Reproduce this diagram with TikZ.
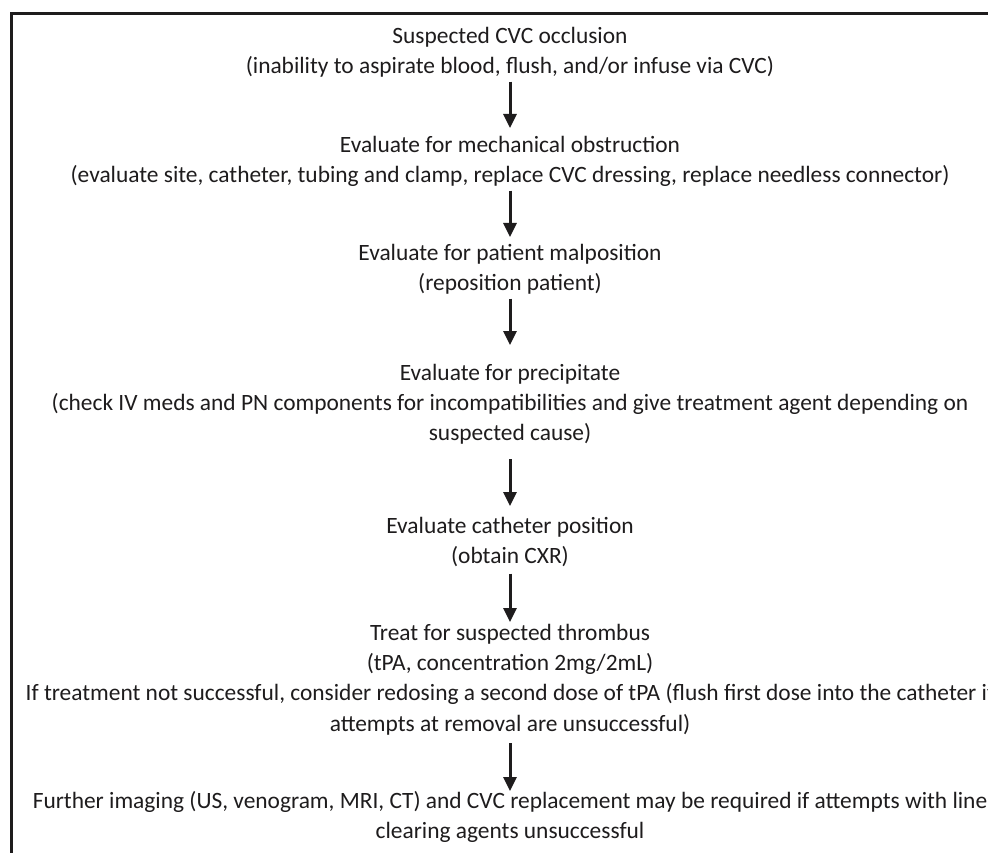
\documentclass[tikz,border=0pt]{standalone}
\usepackage{fontspec}
\setmainfont{Carlito}
\usetikzlibrary{arrows.meta}
\definecolor{ink}{HTML}{1E1C1D}
\newcommand\tp{\rule{0pt}{17pt}}
\newcommand\bt{\rule[-6pt]{0pt}{6pt}}
\begin{document}
\begin{tikzpicture}[x=1pt,y=-1pt,
  txt/.style={align=center,inner sep=0pt,anchor=north,text=ink,font=\fontsize{23.4}{30.3}\selectfont},
  arr/.style={draw=ink,line width=3pt,-{Triangle[length=14pt,width=13pt]}}]
\useasboundingbox (0,0) rectangle (988,853);
\fill[white] (0,0) rectangle (988,853);
\draw[ink,line width=3pt] (11.5,870) -- (11.5,13.5) -- (1000,13.5);

\node[txt] (a) at (510,26) {\tp Suspected CVC occlusion\\(inability to aspirate blood, flush, and/or infuse via CVC)\bt};
\node[txt] (b) at (510,135) {\tp Evaluate for mechanical obstruction\\(evaluate site, catheter, tubing and clamp, replace CVC dressing, replace needless connector)\bt};
\node[txt] (c) at (510,243) {\tp Evaluate for patient malposition\\(reposition patient)\bt};
\node[txt] (d) at (510,363) {\tp Evaluate for precipitate\\(check IV meds and PN components for incompatibilities and give treatment agent depending on\\suspected cause)\bt};
\node[txt] (e) at (510,516) {\tp Evaluate catheter position\\(obtain CXR)\bt};
\node[txt] (f) at (510,623) {\tp Treat for suspected thrombus\\(tPA, concentration 2mg/2mL)\\If treatment not successful, consider redosing a second dose of tPA (flush first dose into the catheter if\\attempts at removal are unsuccessful)\bt};
\node[txt] (g) at (510,791) {\tp Further imaging (US, venogram, MRI, CT) and CVC replacement may be required if attempts with line\\clearing agents unsuccessful\bt};

\draw[arr] ([yshift=-2pt]a.south) -- ([yshift=7pt]b.north);
\draw[arr] ([yshift=-2pt]b.south) -- ([yshift=6pt]c.north);
\draw[arr] ([yshift=-2pt]c.south) -- ([yshift=18pt]d.north);
\draw[arr] ([yshift=-12pt]d.south) -- ([yshift=10pt]e.north);
\draw[arr] ([yshift=-4pt]e.south) -- ([yshift=1pt]f.north);
\draw[arr] ([yshift=-6pt]f.south) -- ([yshift=0pt]g.north);
\end{tikzpicture}
\end{document}
